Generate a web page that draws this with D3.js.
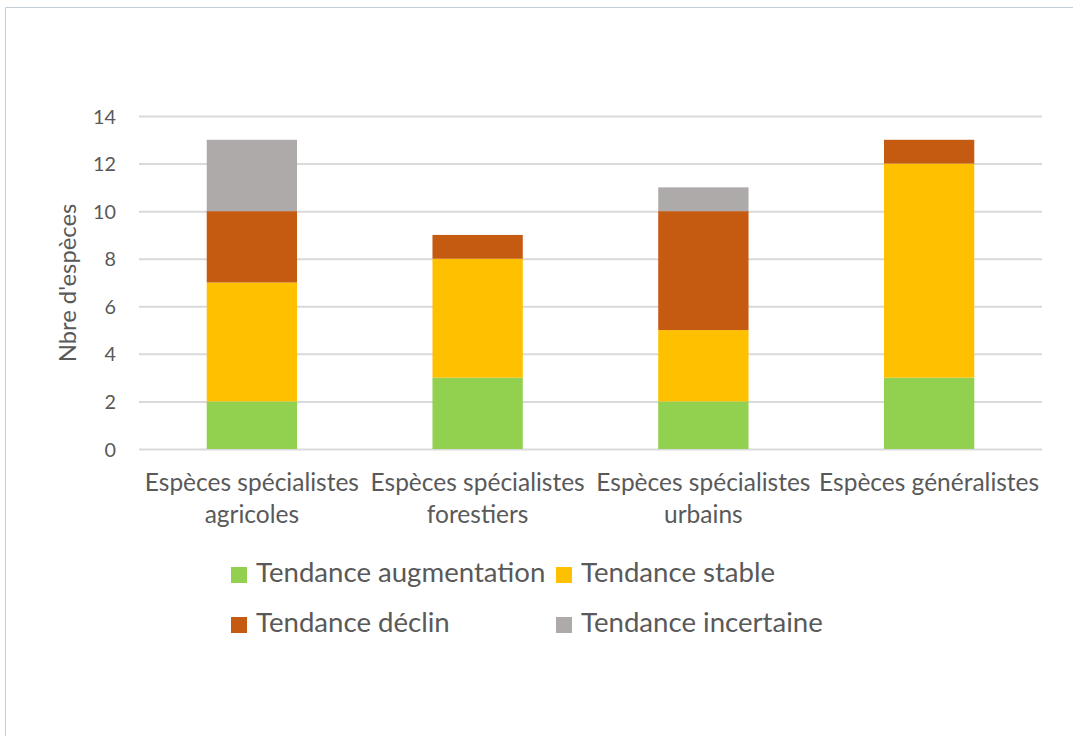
<!DOCTYPE html>
<html><head><meta charset="utf-8">
<script src="https://cdn.jsdelivr.net/npm/d3@7"></script>
<style>body{margin:0;background:#fff}svg{display:block}</style>
</head><body><svg id="c" width="1073" height="736"></svg>
<script>
const categories = [["Espèces spécialistes","agricoles"],["Espèces spécialistes","forestiers"],["Espèces spécialistes","urbains"],["Espèces généralistes"]];
const seriesNames = ["Tendance augmentation","Tendance stable","Tendance déclin","Tendance incertaine"];
const augmentation = [2,3,2,3];
const stable = [5,5,3,9];
const declin = [3,1,5,1];
const incertaine = [3,0,1,0];
const colors = ["#92d050","#ffc000","#c55a11","#aeaaaa"];
const yTicks = [0,2,4,6,8,10,12,14];
const yTitle = "Nbre d'espèces";

const font = "Lato, 'Open Sans', sans-serif";
const txt = "#595959";
const svg = d3.select("#c");
svg.append("path").attr("d","M5.5,740 V7.5 H1080").attr("fill","none").attr("stroke","#c3ced9").attr("stroke-width",1);

const x = d3.scaleBand().domain(d3.range(categories.length)).range([139,1042]).paddingInner(0.6).paddingOuter(0.3);
const y = d3.scaleLinear().domain([0,14]).range([449,116]);

const rows = categories.map((c,i)=>({i, augmentation:augmentation[i], stable:stable[i], declin:declin[i], incertaine:incertaine[i]}));
const keys = ["augmentation","stable","declin","incertaine"];
const stack = d3.stack().keys(keys)(rows);

// grid
const yAxis = d3.axisLeft(y).tickValues(yTicks).tickSize(-(1042-139)).tickPadding(23);
const ga = svg.append("g").attr("transform","translate(139,0)").call(yAxis);
ga.select(".domain").remove();
ga.selectAll(".tick line").attr("stroke","#d9d9d9").attr("stroke-width",2);
ga.selectAll(".tick text").attr("fill",txt).attr("font-family",font).attr("font-size",19.8).attr("dy","0.36em");

svg.append("g").selectAll("g").data(stack).join("g").attr("fill",(d,i)=>colors[i])
  .selectAll("rect").data(d=>d.filter(s=>s[1]-s[0]>0)).join("rect")
  .attr("x",d=>x(d.data.i)).attr("width",x.bandwidth())
  .attr("y",d=>y(d[1])).attr("height",d=>y(d[0])-y(d[1]));

// category labels
const cl = svg.append("g");
categories.forEach((lines,i)=>{
  lines.forEach((l,j)=>{
    cl.append("text").attr("x",x(i)+x.bandwidth()/2).attr("y",491+j*32).attr("text-anchor","middle")
      .attr("fill",txt).attr("font-family",font).attr("font-size",24.5).text(l);
  });
});

svg.append("text").attr("transform","translate(76,283) rotate(-90)").attr("text-anchor","middle")
  .attr("fill",txt).attr("font-family",font).attr("font-size",23.8).text(yTitle);

// legend
const legPos = [[231,567],[556,567],[231,617],[556,617]];
const lg = svg.append("g");
seriesNames.forEach((n,i)=>{
  const [lx,ly]=legPos[i];
  lg.append("rect").attr("x",lx).attr("y",ly).attr("width",16).attr("height",16).attr("fill",colors[i]);
  lg.append("text").attr("x",lx+25).attr("y",ly+15).attr("fill",txt).attr("font-family",font).attr("font-size",27.6).text(n);
});
</script></body></html>
